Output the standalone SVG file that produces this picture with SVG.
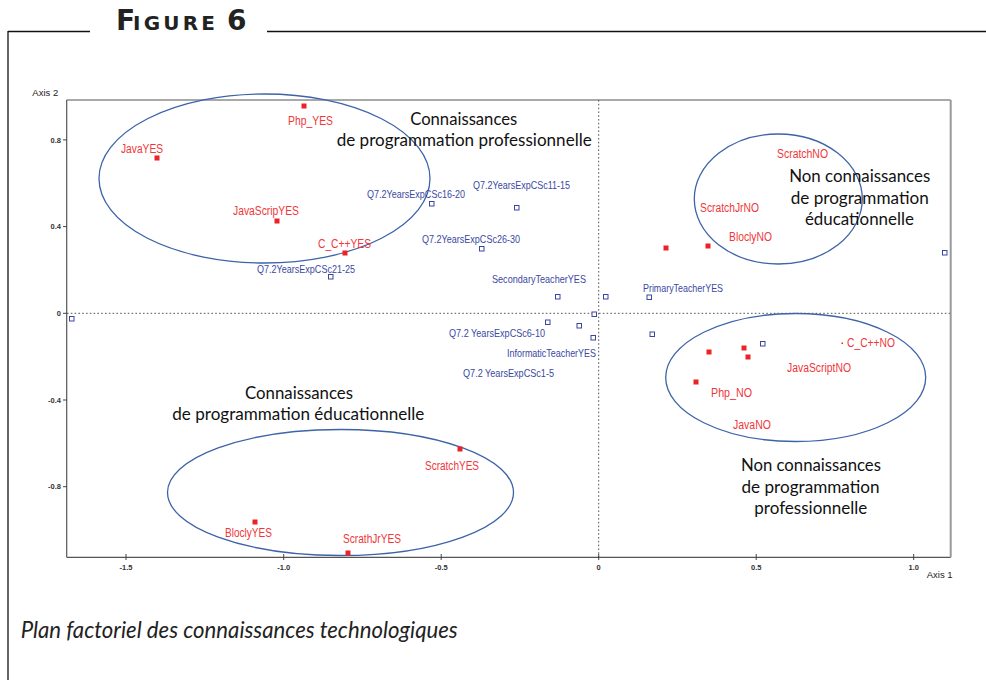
<svg xmlns="http://www.w3.org/2000/svg" width="986" height="680" viewBox="0 0 986 680">
<style>
.frame{stroke:#111;stroke-width:1.3;fill:none}
.ax{stroke:#555;stroke-width:1.2;fill:none}
.tick{stroke:#444;stroke-width:1}
.dot{stroke:#555;stroke-width:1;stroke-dasharray:1.6,2.2;fill:none}
.ell{fill:none;stroke:#3d63a8;stroke-width:1.3}
.rp{fill:#ec2227}
.bp{fill:#fff;stroke:#3b46a0;stroke-width:1}
.rl{font-family:"Liberation Sans",Arial,sans-serif;font-size:12px;fill:#f0363a}
.bl{font-family:"Liberation Sans",Arial,sans-serif;font-size:11px;fill:#3a48a2}
.tl{font-family:"Liberation Sans",Arial,sans-serif;font-size:7.5px;fill:#333;font-weight:bold}
.axl{font-family:"Liberation Sans",Arial,sans-serif;font-size:9.5px;fill:#222}
.ann{font-family:Lato,"Open Sans",sans-serif;font-size:17.5px;fill:#111}
.cap{font-family:Lato,"Open Sans",sans-serif;font-size:23px;font-style:italic;fill:#222}
.fig{font-family:"DejaVu Sans","Liberation Sans",sans-serif;font-weight:bold;fill:#222}
</style>
<rect width="986" height="680" fill="#fff"/>

<g id="outer-frame">
<line class="frame" x1="8" y1="31.5" x2="90" y2="31.5"/>
<line class="frame" x1="267" y1="31.5" x2="986" y2="31.5"/>
<line class="frame" x1="8" y1="31" x2="8" y2="680"/>
<text class="fig" x="116" y="30" font-size="28">F</text>
<text class="fig" x="133" y="30" font-size="20" letter-spacing="3.2">IGURE</text>
<text class="fig" x="227" y="30" font-size="28">6</text>
</g>

<g id="axes">
<line class="ax" x1="66.7" y1="100" x2="950.7" y2="100"/>
<line class="ax" x1="66.7" y1="100" x2="66.7" y2="557.3"/>
<line class="ax" x1="66.7" y1="557.3" x2="950.7" y2="557.3"/>
<line x1="950.7" y1="100" x2="950.7" y2="557.3" stroke="#999" stroke-width="2"/>
<line class="dot" x1="67" y1="313.3" x2="950" y2="313.3"/>
<line class="dot" x1="598.7" y1="100" x2="598.7" y2="557"/>
<g class="tick">
<line x1="126" y1="554" x2="126" y2="560"/>
<line x1="283.7" y1="554" x2="283.7" y2="560"/>
<line x1="441.2" y1="554" x2="441.2" y2="560"/>
<line x1="598.7" y1="554" x2="598.7" y2="560"/>
<line x1="756.2" y1="554" x2="756.2" y2="560"/>
<line x1="913.7" y1="554" x2="913.7" y2="560"/>
<line x1="63" y1="139.9" x2="67" y2="139.9"/>
<line x1="63" y1="226.6" x2="67" y2="226.6"/>
<line x1="63" y1="313.3" x2="67" y2="313.3"/>
<line x1="63" y1="400" x2="67" y2="400"/>
<line x1="63" y1="486.7" x2="67" y2="486.7"/>
</g>
<g class="tl" text-anchor="middle">
<text x="126" y="570">-1.5</text>
<text x="283.7" y="570">-1.0</text>
<text x="441.2" y="570">-0.5</text>
<text x="598.7" y="570">0</text>
<text x="756.2" y="570">0.5</text>
<text x="913.7" y="570">1.0</text>
</g>
<g class="tl" text-anchor="end">
<text x="61" y="142.5">0.8</text>
<text x="61" y="229.2">0.4</text>
<text x="61" y="316">0</text>
<text x="61" y="402.7">-0.4</text>
<text x="61" y="489.4">-0.8</text>
</g>
<text class="axl" x="32.3" y="95.7">Axis 2</text>
<text class="axl" x="926.7" y="578.3">Axis 1</text>
</g>

<g id="connectors"></g>

<g id="clusters">
<ellipse id="ell-pro-yes" class="ell" cx="264.5" cy="178.5" rx="165.5" ry="84.5"/>
<ellipse id="ell-edu-no" class="ell" cx="778.3" cy="199" rx="84" ry="65"/>
<ellipse id="ell-pro-no" class="ell" cx="795.7" cy="377.5" rx="130" ry="64"/>
<ellipse id="ell-edu-yes" class="ell" cx="340.5" cy="492.5" rx="173" ry="63"/>
</g>

<g id="n-php-yes"><rect class="rp" x="301.5" y="103.5" width="5" height="5"/><text class="rl" x="288" y="125" textLength="45" lengthAdjust="spacingAndGlyphs">Php_YES</text></g>
<g id="n-java-yes"><rect class="rp" x="154.5" y="155.5" width="5" height="5"/><text class="rl" x="121" y="153" textLength="42" lengthAdjust="spacingAndGlyphs">JavaYES</text></g>
<g id="n-javascript-yes"><rect class="rp" x="274.5" y="218.5" width="5" height="5"/><text class="rl" x="233" y="215" textLength="66" lengthAdjust="spacingAndGlyphs">JavaScripYES</text></g>
<g id="n-ccpp-yes"><rect class="rp" x="342.5" y="250.5" width="5" height="5"/><text class="rl" x="318" y="248" textLength="53" lengthAdjust="spacingAndGlyphs">C_C++YES</text></g>
<g id="n-scratch-no"><text class="rl" x="777" y="158" textLength="51" lengthAdjust="spacingAndGlyphs">ScratchNO</text></g>
<g id="n-scratchjr-no"><text class="rl" x="700" y="212" textLength="59" lengthAdjust="spacingAndGlyphs">ScratchJrNO</text></g>
<g id="n-blocly-no"><text class="rl" x="729" y="241" textLength="43" lengthAdjust="spacingAndGlyphs">BloclyNO</text></g>
<g id="n-red-a"><rect class="rp" x="663.5" y="245.5" width="5" height="5"/></g>
<g id="n-red-b"><rect class="rp" x="705.5" y="243.5" width="5" height="5"/></g>
<g id="n-ccpp-no"><rect class="rp" x="841.5" y="342.5" width="1.5" height="1.5"/><text class="rl" x="847" y="347" textLength="48" lengthAdjust="spacingAndGlyphs">C_C++NO</text></g>
<g id="n-javascript-no"><text class="rl" x="787" y="372" textLength="64" lengthAdjust="spacingAndGlyphs">JavaScriptNO</text></g>
<g id="n-php-no"><text class="rl" x="711" y="397" textLength="41" lengthAdjust="spacingAndGlyphs">Php_NO</text></g>
<g id="n-java-no"><text class="rl" x="733" y="429" textLength="38" lengthAdjust="spacingAndGlyphs">JavaNO</text></g>
<g id="n-red-c"><rect class="rp" x="706.5" y="349.5" width="5" height="5"/></g>
<g id="n-red-d"><rect class="rp" x="741.5" y="345.5" width="5" height="5"/></g>
<g id="n-red-e"><rect class="rp" x="745.5" y="354.5" width="5" height="5"/></g>
<g id="n-red-f"><rect class="rp" x="693.5" y="379.5" width="5" height="5"/></g>
<g id="n-scratch-yes"><rect class="rp" x="457.5" y="446.5" width="5" height="5"/><text class="rl" x="425" y="470" textLength="54" lengthAdjust="spacingAndGlyphs">ScratchYES</text></g>
<g id="n-blocly-yes"><rect class="rp" x="252.5" y="519.5" width="5" height="5"/><text class="rl" x="225" y="537" textLength="47" lengthAdjust="spacingAndGlyphs">BloclyYES</text></g>
<g id="n-scratchjr-yes"><rect class="rp" x="345.5" y="550.5" width="5" height="5"/><text class="rl" x="343" y="543" textLength="58" lengthAdjust="spacingAndGlyphs">ScrathJrYES</text></g>

<g id="n-exp21-25"><rect class="bp" x="328.5" y="274.5" width="4.5" height="4.5"/><text class="bl" x="257" y="273" textLength="98" lengthAdjust="spacingAndGlyphs">Q7.2YearsExpCSc21-25</text></g>
<g id="n-exp16-20"><rect class="bp" x="429.5" y="201.5" width="4.5" height="4.5"/><text class="bl" x="367" y="198" textLength="98" lengthAdjust="spacingAndGlyphs">Q7.2YearsExpCSc16-20</text></g>
<g id="n-exp11-15"><rect class="bp" x="514.5" y="205.5" width="4.5" height="4.5"/><text class="bl" x="473" y="189" textLength="97" lengthAdjust="spacingAndGlyphs">Q7.2YearsExpCSc11-15</text></g>
<g id="n-exp26-30"><rect class="bp" x="479.5" y="246.5" width="4.5" height="4.5"/><text class="bl" x="422" y="243" textLength="98" lengthAdjust="spacingAndGlyphs">Q7.2YearsExpCSc26-30</text></g>
<g id="n-secondary"><rect class="bp" x="555.5" y="294.5" width="4.5" height="4.5"/><text class="bl" x="492" y="283" textLength="94" lengthAdjust="spacingAndGlyphs">SecondaryTeacherYES</text></g>
<g id="n-primary"><rect class="bp" x="647" y="295" width="4.5" height="4.5"/><text class="bl" x="643" y="292" textLength="80" lengthAdjust="spacingAndGlyphs">PrimaryTeacherYES</text></g>
<g id="n-exp6-10"><rect class="bp" x="545.5" y="320" width="4.5" height="4.5"/><text class="bl" x="449" y="337" textLength="96" lengthAdjust="spacingAndGlyphs">Q7.2 YearsExpCSc6-10</text></g>
<g id="n-informatic"><rect class="bp" x="591" y="335.5" width="4.5" height="4.5"/><text class="bl" x="507" y="357" textLength="89" lengthAdjust="spacingAndGlyphs">InformaticTeacherYES</text></g>
<g id="n-exp1-5"><rect class="bp" x="577" y="323.5" width="4.5" height="4.5"/><text class="bl" x="463" y="377" textLength="91" lengthAdjust="spacingAndGlyphs">Q7.2 YearsExpCSc1-5</text></g>
<g id="n-blue-a"><rect class="bp" x="603.5" y="294.5" width="4.5" height="4.5"/></g>
<g id="n-blue-b"><rect class="bp" x="592" y="312" width="4.5" height="4.5"/></g>
<g id="n-blue-c"><rect class="bp" x="650" y="332" width="4.5" height="4.5"/></g>
<g id="n-blue-d"><rect class="bp" x="760.5" y="341.5" width="4.5" height="4.5"/></g>
<g id="n-blue-e"><rect class="bp" x="942.5" y="250.5" width="4.5" height="4.5"/></g>
<g id="n-blue-f"><rect class="bp" x="69.5" y="316.5" width="4.5" height="4.5"/></g>

<g id="ann-pro-yes" class="ann" text-anchor="middle">
<text x="463.7" y="125" textLength="107" lengthAdjust="spacingAndGlyphs">Connaissances</text>
<text x="464.2" y="145.5" textLength="255" lengthAdjust="spacingAndGlyphs">de programmation professionnelle</text>
</g>
<g id="ann-edu-no" class="ann" text-anchor="middle">
<text x="859.7" y="182.3" textLength="141" lengthAdjust="spacingAndGlyphs">Non connaissances</text>
<text x="859.7" y="203.5" textLength="138" lengthAdjust="spacingAndGlyphs">de programmation</text>
<text x="859.4" y="225" textLength="109" lengthAdjust="spacingAndGlyphs">éducationnelle</text>
</g>
<g id="ann-pro-no" class="ann" text-anchor="middle">
<text x="810.9" y="470.7" textLength="140" lengthAdjust="spacingAndGlyphs">Non connaissances</text>
<text x="810.5" y="492.7" textLength="138" lengthAdjust="spacingAndGlyphs">de programmation</text>
<text x="810.8" y="513.5" textLength="113" lengthAdjust="spacingAndGlyphs">professionnelle</text>
</g>
<g id="ann-edu-yes" class="ann" text-anchor="middle">
<text x="299" y="398.5" textLength="108" lengthAdjust="spacingAndGlyphs">Connaissances</text>
<text x="298.3" y="419.5" textLength="252" lengthAdjust="spacingAndGlyphs">de programmation éducationnelle</text>
</g>

<text id="caption" class="cap" x="20.7" y="638.3" textLength="437" lengthAdjust="spacingAndGlyphs">Plan factoriel des connaissances technologiques</text>
</svg>
